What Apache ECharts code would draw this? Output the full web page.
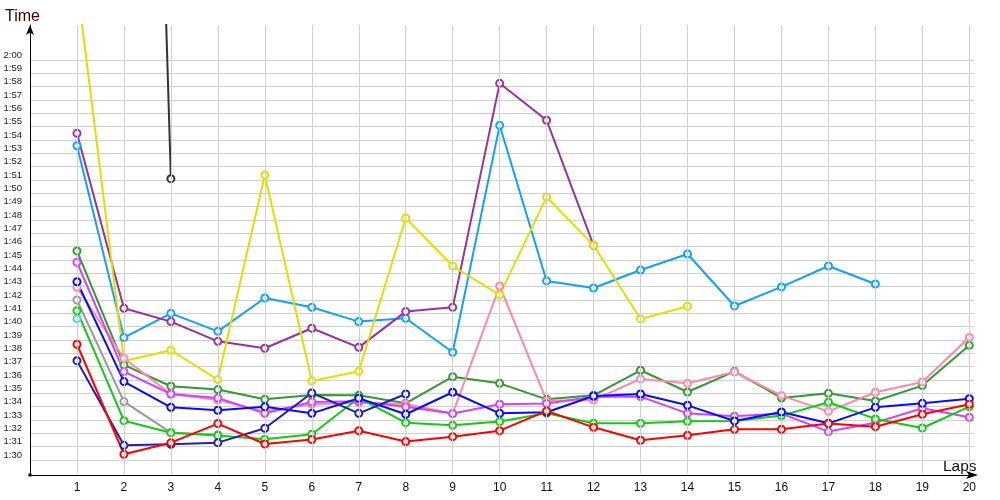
<!DOCTYPE html>
<html><head><meta charset="utf-8">
<script src="https://cdn.jsdelivr.net/npm/echarts@6/dist/echarts.min.js"></script>
<style>html,body{margin:0;padding:0;background:#fff}#c{width:1000px;height:500px}</style>
</head><body><div id="c"></div>
<script>
// Laps (x categories)
const laps = [1,2,3,4,5,6,7,8,9,10,11,12,13,14,15,16,17,18,19,20];
// Lap times in seconds (1:30 = 90), null = no lap
const yellowTimes  = [125.7, 97.43, 98.23, 96.03, 111.38, 95.93, 96.65, 108.15, 104.55, 102.38, 109.73, 106.1, 100.58, 101.53, null, null, null, null, null, null];
const blackTimes   = [null, 227, 111.1, null, null, null, null, null, null, null, null, null, null, null, null, null, null, null, null, null];
const skyTimes     = [113.57, 99.18, 101.0, 99.65, 102.15, 101.45, 100.38, 100.63, 98.08, 115.1, 103.43, 102.9, 104.25, 105.45, 101.55, 102.98, 104.55, 103.2, null, null];
const purpleTimes  = [114.5, 101.38, 100.38, 98.9, 98.38, 99.88, 98.45, 101.13, 101.45, 118.25, 115.48, 106.1, null, null, null, null, null, null, null, null];
const dkGreenTimes = [105.68, 97.13, 95.53, 95.28, 94.55, 94.88, 94.85, 94.25, 96.25, 95.75, 94.55, 94.85, 96.73, 95.1, 96.65, 94.65, 95.0, 94.43, 95.58, 98.6];
const violetTimes  = [104.83, 96.63, 94.95, 94.65, 93.5, 94.35, 94.4, 94.0, 93.48, 94.18, 94.23, 94.75, 94.75, 93.5, 93.28, 93.48, 92.13, 92.8, 93.88, 93.2];
const pinkTimes    = [102.95, 97.63, 94.95, 94.5, 93.63, 94.18, 94.3, 94.2, 93.48, 103.05, 94.45, 94.5, 96.08, 95.75, 96.6, 94.83, 93.65, 95.08, 95.85, 99.2];
const blueTimes    = [103.37, 95.88, 93.95, 93.73, 94.0, 93.5, 94.63, 93.43, 95.08, 93.5, 93.58, 94.8, 94.95, 94.1, 92.93, 93.6, 92.75, 93.95, 94.25, 94.6];
const navyTimes    = [97.45, 91.1, 91.18, 91.3, 92.38, 95.03, 93.5, 94.95, null, null, null, null, null, null, null, null, null, null, null, null];
const redTimes     = [98.68, 90.43, 91.3, 92.73, 91.2, 91.53, 92.2, 91.38, 91.75, 92.2, 93.68, 92.45, 91.48, 91.85, 92.3, 92.3, 92.73, 92.5, 93.43, 94.18];
const greenTimes   = [101.2, 92.95, 92.05, 91.83, 91.55, 91.93, 94.65, 92.8, 92.6, 92.88, 93.5, 92.75, 92.75, 92.9, 92.93, 93.33, 94.33, 93.08, 92.4, 94.0];
const grayTimes    = [102.0, 94.38, 92.05, 91.9, null, null, null, null, null, null, null, null, null, null, null, null, null, null, null, null];
const tealTimes    = [100.6, null, null, null, null, null, null, null, null, null, null, null, null, null, null, null, null, null, null, null];
// y tick label range (seconds): 1:30 .. 2:00
const yLabelMin = 90, yLabelMax = 120;

const defs = [
  ['gray',   '#9a9a9a', grayTimes],
  ['teal',   '#44d8d0', tealTimes],
  ['black',  '#333333', blackTimes],
  ['sky',    '#11a0ff', skyTimes],
  ['purple', '#993399', purpleTimes],
  ['yellow', '#e0e000', yellowTimes],
  ['dkgreen','#339933', dkGreenTimes],
  ['pink',   '#ff88aa', pinkTimes],
  ['violet', '#cc44ff', violetTimes],
  ['green',  '#11cc11', greenTimes],
  ['blue',   '#0a0aff', blueTimes],
  ['navy',   '#2020b0', navyTimes],
  ['red',    '#ff0000', redTimes]
];

const Y_MIN = 89, Y_MAX = 122.625;
const X_MIN = 0, X_MAX = 20.1;
const PX_PER_S = 448.33 / (Y_MAX - Y_MIN);

function fmtTime(v) {
  if (Math.abs(v - Math.round(v)) > 1e-6 || v < yLabelMin || v > yLabelMax) return '';
  const m = Math.floor(v / 60), s = Math.round(v % 60);
  return m + ':' + String(s).padStart(2, '0');
}

const chart = echarts.init(document.getElementById('c'));
chart.setOption({
  animation: false,
  backgroundColor: '#fff',
  grid: [
    { left: 30, top: 25, width: 944, height: 448.33 },
    { left: 30, top: 25 + (Y_MAX - yLabelMax) * PX_PER_S, width: 944, height: (yLabelMax - Y_MIN) * PX_PER_S }
  ],
  xAxis: [
    {
      gridIndex: 0, type: 'value', min: X_MIN, max: X_MAX, interval: 1, offset: 1.67, z: 5,
      axisLine: { show: true, lineStyle: { color: '#000', width: 1 }, symbol: ['none', 'arrow'], symbolSize: [6, 12], symbolOffset: [0, 4] },
      axisTick: { show: false },
      axisLabel: { margin: 7, color: '#111', fontFamily: 'Liberation Sans', fontSize: 12,
        formatter: v => (laps.includes(v) ? String(v) : '') },
      splitLine: { show: true, showMinLine: false, showMaxLine: false, lineStyle: { color: '#d0d0d0', width: 1 } }
    },
    {
      gridIndex: 1, type: 'value', min: X_MIN, max: X_MAX, show: false
    }
  ],
  yAxis: [
    {
      gridIndex: 0, type: 'value', min: Y_MIN, max: Y_MAX, interval: 1, z: 5,
      axisLine: { show: true, lineStyle: { color: '#000', width: 1 }, symbol: ['none', 'arrow'], symbolSize: [6, 10] },
      axisTick: { show: false },
      axisLabel: { show: false },
      splitLine: { show: false }
    },
    {
      gridIndex: 1, type: 'value', min: Y_MIN, max: yLabelMax, interval: 1,
      axisLine: { show: false },
      axisTick: { show: false },
      axisLabel: { margin: 8, color: '#222', fontFamily: 'Liberation Sans', fontSize: 9.5, verticalAlign: 'bottom', formatter: fmtTime },
      splitLine: { show: true, showMinLine: false, lineStyle: { color: '#d0d0d0', width: 1 } }
    }
  ],
  graphic: [
    { type: 'text', left: 5, top: 9, style: { text: 'Time', fill: '#3a0000', font: '16px "Liberation Sans"' } },
    { type: 'text', left: 943, top: 459, style: { text: 'Laps', fill: '#111', font: '15.5px "Liberation Sans"' } },
    { type: 'rect', left: 28.5, top: 473.5, z: 10, shape: { width: 3, height: 3 }, style: { fill: '#000' } }
  ],
  series: defs.map(([name, color, arr]) => ({
    name, type: 'line', xAxisIndex: 0, yAxisIndex: 0,
    data: laps.map((lap, i) => [lap, arr[i]]),
    connectNulls: false,
    clip: true,
    symbol: 'emptyCircle', symbolSize: 7, showSymbol: true,
    lineStyle: { color, width: 2 },
    itemStyle: { color, borderColor: color, borderWidth: 1.2 },
    emphasis: { disabled: true }
  }))
});
</script>
</body></html>
